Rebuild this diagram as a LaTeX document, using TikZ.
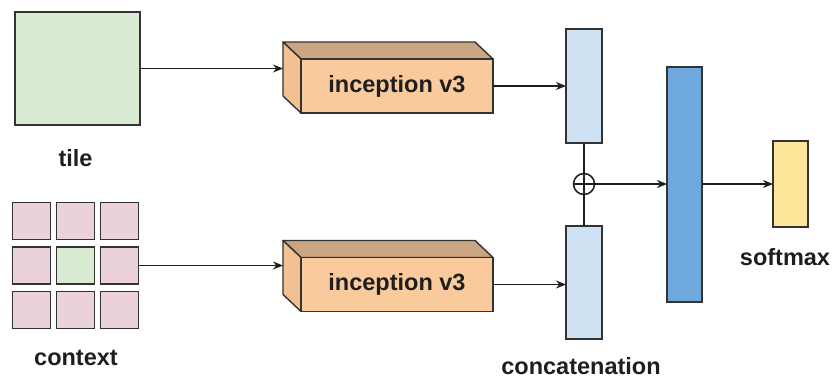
\documentclass[tikz,border=0pt]{standalone}
\usepackage{fontspec}
\setmainfont{Liberation Sans}
\usetikzlibrary{arrows.meta}
\definecolor{tilegreen}{HTML}{D9EAD3}
\definecolor{ctxpink}{HTML}{EAD1DC}
\definecolor{lightblue}{HTML}{CFE2F3}
\definecolor{midblue}{HTML}{6FA8DC}
\definecolor{softyellow}{HTML}{FFE599}
\definecolor{boxfront}{HTML}{F9CB9C}
\definecolor{boxside}{HTML}{F2C191}
\definecolor{boxtop}{HTML}{C9A582}
\definecolor{edge}{HTML}{333333}
\definecolor{ink}{HTML}{1E1E1E}
\tikzset{
  block/.style={draw=edge, line width=1.4pt, inner sep=0pt, outer sep=0pt},
  face/.style={draw=edge, line width=1.4pt, line join=round},
  lbl/.style={font=\fontsize{23.5}{26}\selectfont\bfseries, text=ink, inner sep=0pt},
  link/.style={draw=ink, line width=1.5pt},
  flow/.style={link, -{Stealth[length=10pt,width=8pt]}},
}
\begin{document}
\begin{tikzpicture}[x=1pt,y=-1pt]
\useasboundingbox (0,0) rectangle (832,381);

% input tile
\node[block, fill=tilegreen, minimum width=125pt, minimum height=113pt] (tile) at (77.5,68.5) {};
\node[lbl] (tilelbl) at (75.5,158) {tile};

% 3x3 context grid, green tile in the middle
\foreach \r/\y in {1/221,2/265.5,3/310}{
  \foreach \c/\x in {1/31.5,2/75.5,3/119.5}{
    \node[block, fill=ctxpink, minimum width=38pt, minimum height=37pt] (g\r\c) at (\x,\y) {};
  }
}
\node[block, fill=tilegreen, minimum width=38pt, minimum height=37pt] at (g22) {};
\node[lbl] (ctxlbl) at (76,358) {context};

% extruded inception boxes: front face node plus top and side faces
\foreach \n/\y in {inca/86,incb/284.5}{
  \node[block, fill=boxfront, minimum width=192pt, minimum height=54pt] (\n) at (397,\y) {};
  \draw[face, fill=boxtop] (\n.north west) -- ++(-18,-17) -- ([xshift=-18pt,yshift=17pt]\n.north east) -- (\n.north east) -- cycle;
  \draw[face, fill=boxside] (\n.north west) -- ++(-18,-17) -- ([xshift=-18pt,yshift=17pt]\n.south west) -- (\n.south west) -- cycle;
  \node[block, fill=boxfront, minimum width=192pt, minimum height=54pt] at (\n) {};
  \node[lbl] at (\n) {inception v3};
  \coordinate (\n-back) at ([xshift=-18pt,yshift=17pt]\n.west);
}

% concatenated feature vectors
\node[block, fill=lightblue, minimum width=36pt, minimum height=114pt] (ctop) at (584,86) {};
\node[block, fill=lightblue, minimum width=36pt, minimum height=113pt] (cbot) at (584,282.5) {};
\node[draw=ink, line width=1.5pt, circle, minimum size=21pt, inner sep=0pt] (plus) at (584,184) {};
\node[lbl] (catlbl) at (581,366) {concatenation};

% fully connected layer and softmax output
\node[block, fill=midblue, minimum width=35pt, minimum height=235pt] (fc) at (684.5,184.5) {};
\node[block, fill=softyellow, minimum width=35pt, minimum height=86pt] (soft) at (790.5,184) {};
\node[lbl] (softlbl) at (785,257) {softmax};

% connectors
\draw[flow] (tile.east) -- (tile.east -| inca-back);
\draw[flow] (g23.east) -- (g23.east -| incb-back);
\draw[flow] (inca.east) -- (inca.east -| ctop.west);
\draw[flow] (incb.east) -- (incb.east -| cbot.west);
\draw[link] (ctop.south) -- (cbot.north);
\draw[flow] (plus.west) -- (plus.west -| fc.west);
\draw[flow] (fc.east |- plus) -- (soft.west |- plus);
\end{tikzpicture}
\end{document}
